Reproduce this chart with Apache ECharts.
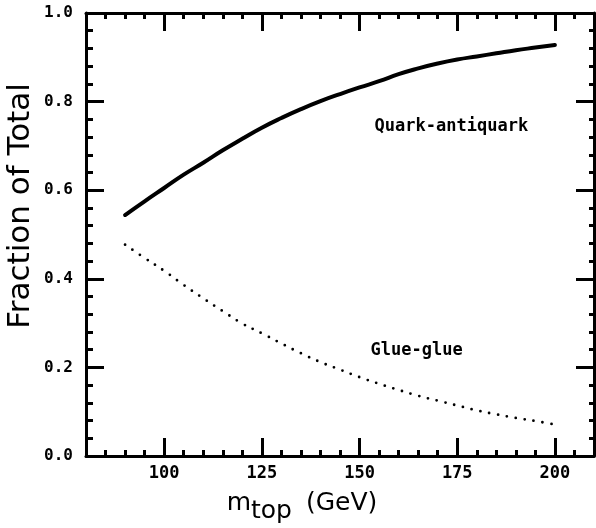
<!DOCTYPE html>
<html>
<head>
<meta charset="utf-8">
<script src="https://cdn.jsdelivr.net/npm/echarts@6/dist/echarts.min.js"></script>
<style>
  html, body { margin: 0; padding: 0; background: #fff; }
  #main { width: 596px; height: 528px; }
</style>
</head>
<body>
<div id="main"></div>
<script>
// top mass (GeV)
var masses = [90, 95, 100, 105, 110, 115, 120, 125, 130, 135, 140, 145, 150, 155, 160, 165, 170, 175, 180, 185, 190, 195, 200];
// quark-antiquark fraction
var qqbar = [0.544, 0.575, 0.605, 0.635, 0.662, 0.690, 0.716, 0.741, 0.763, 0.783, 0.801, 0.817, 0.832, 0.846, 0.862, 0.875, 0.886, 0.895, 0.902, 0.909, 0.916, 0.922, 0.928];
// glue-glue fraction
var gluglu = [0.477, 0.447, 0.418, 0.386, 0.356, 0.327, 0.299, 0.277, 0.254, 0.232, 0.212, 0.195, 0.178, 0.163, 0.149, 0.136, 0.125, 0.114, 0.103, 0.094, 0.086, 0.079, 0.071];
// long tick marks on the mass axis
var xMajorTicks = [100, 125, 150, 175, 200];

var pair = function (ys) {
    return masses.map(function (m, i) { return [m, ys[i]]; });
};

var monoBold = 'DejaVu Sans Mono';
var tickStyle = {color: '#000', width: 3};

// minor and major tick axes (top/bottom)
var minorX = function (pos) {
    return {
        type: 'value', position: pos, min: 80, max: 210, interval: 5,
        axisLine: {show: true, onZero: false, lineStyle: {color: '#000', width: 3}},
        axisTick: {show: true, inside: true, length: 6, lineStyle: tickStyle},
        axisLabel: {show: false},
        splitLine: {show: false}
    };
};
var majorX = function (pos, labels) {
    return {
        type: 'value', position: pos, min: 80, max: 210,
        axisLine: {show: false, onZero: false},
        axisTick: {show: true, inside: true, length: 18, lineStyle: tickStyle, customValues: xMajorTicks},
        axisLabel: {
            show: labels, customValues: xMajorTicks, margin: 9,
            color: '#000', fontFamily: monoBold, fontWeight: 'bold', fontSize: 17
        },
        splitLine: {show: false}
    };
};
var yAx = function (pos, labels) {
    return {
        type: 'value', position: pos, min: 0, max: 1, interval: 0.2,
        axisLine: {show: true, onZero: false, lineStyle: {color: '#000', width: 3}},
        axisTick: {show: true, inside: true, length: 18, lineStyle: tickStyle},
        minorTick: {show: true, splitNumber: 5, length: pos === 'left' ? 7 : 5, lineStyle: tickStyle},
        axisLabel: {
            show: labels, margin: 13, color: '#000',
            fontFamily: monoBold, fontWeight: 'bold', fontSize: 16,
            formatter: function (v) { return v.toFixed(1); }
        },
        splitLine: {show: false}
    };
};

var labelMark = function (text, coord) {
    return {
        symbol: 'circle', symbolSize: 0, silent: true,
        itemStyle: {color: 'rgba(0,0,0,0)'},
        label: {
            show: true, position: 'inside', formatter: text, color: '#000',
            fontFamily: monoBold, fontWeight: 'bold', fontSize: 17
        },
        data: [{coord: coord}]
    };
};

var chart = echarts.init(document.getElementById('main'));
var option = {
    animation: false,
    backgroundColor: '#fff',
    grid: {left: 86, right: 2, top: 13, bottom: 72},
    xAxis: [minorX('bottom'), majorX('bottom', true), minorX('top'), majorX('top', false)],
    yAxis: [yAx('left', true), yAx('right', false)],
    series: [
        {
            name: 'Quark-antiquark', type: 'line',
            xAxisIndex: 0, yAxisIndex: 0,
            data: pair(qqbar), smooth: true, showSymbol: false,
            lineStyle: {color: '#000', width: 4, cap: 'round'},
            markPoint: labelMark('Quark-antiquark', [173.5, 0.743])
        },
        {
            name: 'Glue-glue', type: 'line',
            xAxisIndex: 0, yAxisIndex: 0,
            data: pair(gluglu), smooth: true, showSymbol: false,
            lineStyle: {color: '#000', width: 2.8, type: [0, 9], cap: 'round'},
            markPoint: labelMark('Glue-glue', [164.6, 0.237])
        }
    ],
    graphic: [
        {
            type: 'text', x: 21, y: 206, rotation: Math.PI / 2,
            style: {
                text: 'Fraction of Total', fill: '#000',
                font: '31px "DejaVu Sans"', align: 'center', verticalAlign: 'middle'
            }
        },
        {
            type: 'text', x: 302, y: 503,
            style: {
                text: '{m|m}{s|top}{g|(GeV)}', fill: '#000',
                align: 'center', verticalAlign: 'middle',
                rich: {
                    m: {fontFamily: 'DejaVu Sans', fontSize: 25, color: '#000'},
                    s: {fontFamily: 'DejaVu Sans', fontSize: 25, color: '#000', padding: [16, 0, 0, 0]},
                    g: {fontFamily: 'DejaVu Sans', fontSize: 25, color: '#000', padding: [0, 0, 0, 14]}
                }
            }
        }
    ]
};
chart.setOption(option);
</script>
</body>
</html>
